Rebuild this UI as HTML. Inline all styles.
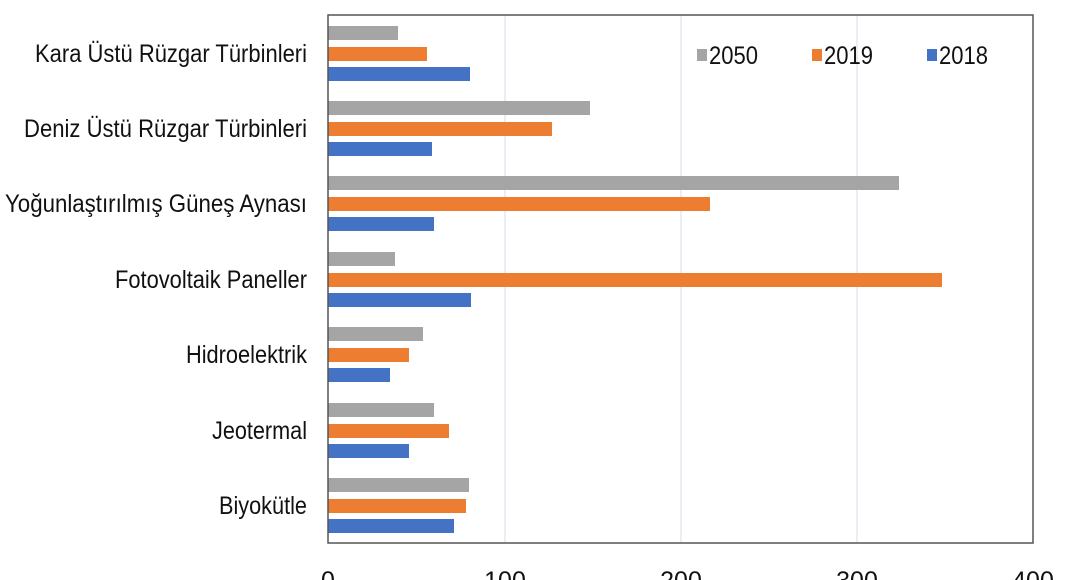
<!DOCTYPE html>
<html><head><meta charset="utf-8"><style>html,body{margin:0;padding:0;background:#fff;}svg{display:block}</style></head>
<body>
<svg width="1068" height="580" xmlns="http://www.w3.org/2000/svg" font-family="Liberation Sans, Arial, sans-serif" font-size="25" fill="#111">
<rect width="1068" height="580" fill="#fff"/>
<g stroke="#d4dcea" stroke-width="1">
<line x1="505" y1="15" x2="505" y2="543"/>
<line x1="681" y1="15" x2="681" y2="543"/>
<line x1="857" y1="15" x2="857" y2="543"/>
</g>
<g id="bars">
<rect x="328" y="26" width="70" height="14" fill="#a5a5a5"/>
<rect x="328" y="47" width="99" height="14" fill="#ed7d31"/>
<rect x="328" y="67" width="142" height="14" fill="#4472c4"/>

<rect x="328" y="101" width="262" height="14" fill="#a5a5a5"/>
<rect x="328" y="122" width="224" height="14" fill="#ed7d31"/>
<rect x="328" y="142" width="104" height="14" fill="#4472c4"/>

<rect x="328" y="176" width="571" height="14" fill="#a5a5a5"/>
<rect x="328" y="197" width="382" height="14" fill="#ed7d31"/>
<rect x="328" y="217" width="106" height="14" fill="#4472c4"/>

<rect x="328" y="252" width="67" height="14" fill="#a5a5a5"/>
<rect x="328" y="273" width="614" height="14" fill="#ed7d31"/>
<rect x="328" y="293" width="143" height="14" fill="#4472c4"/>

<rect x="328" y="327" width="95" height="14" fill="#a5a5a5"/>
<rect x="328" y="348" width="81" height="14" fill="#ed7d31"/>
<rect x="328" y="368" width="62" height="14" fill="#4472c4"/>

<rect x="328" y="403" width="106" height="14" fill="#a5a5a5"/>
<rect x="328" y="424" width="121" height="14" fill="#ed7d31"/>
<rect x="328" y="444" width="81" height="14" fill="#4472c4"/>

<rect x="328" y="478" width="141" height="14" fill="#a5a5a5"/>
<rect x="328" y="499" width="138" height="14" fill="#ed7d31"/>
<rect x="328" y="519" width="126" height="14" fill="#4472c4"/>
</g>
<rect x="328" y="15" width="705" height="528" fill="none" stroke="#555" stroke-width="1.5"/>
<g text-anchor="start">
<text x="35" y="62" textLength="272" lengthAdjust="spacingAndGlyphs">Kara Üstü Rüzgar Türbinleri</text>
<text x="24" y="137" textLength="283" lengthAdjust="spacingAndGlyphs">Deniz Üstü Rüzgar Türbinleri</text>
<text x="5" y="212" textLength="302" lengthAdjust="spacingAndGlyphs">Yoğunlaştırılmış Güneş Aynası</text>
<text x="115" y="288" textLength="192" lengthAdjust="spacingAndGlyphs">Fotovoltaik Paneller</text>
<text x="186" y="363" textLength="121" lengthAdjust="spacingAndGlyphs">Hidroelektrik</text>
<text x="212" y="439" textLength="95" lengthAdjust="spacingAndGlyphs">Jeotermal</text>
<text x="219" y="514" textLength="88" lengthAdjust="spacingAndGlyphs">Biyokütle</text>
</g>
<g text-anchor="middle">
<text x="328" y="589">0</text>
<text x="505" y="589">100</text>
<text x="681" y="589">200</text>
<text x="857" y="589">300</text>
<text x="1033" y="589">400</text>
</g>
<rect x="697" y="49" width="10" height="12" fill="#a5a5a5"/>
<text x="709" y="64" textLength="49" lengthAdjust="spacingAndGlyphs">2050</text>
<rect x="812" y="49" width="10" height="12" fill="#ed7d31"/>
<text x="824" y="64" textLength="49" lengthAdjust="spacingAndGlyphs">2019</text>
<rect x="927" y="49" width="10" height="12" fill="#4472c4"/>
<text x="939" y="64" textLength="49" lengthAdjust="spacingAndGlyphs">2018</text>
</svg>
</body></html>
